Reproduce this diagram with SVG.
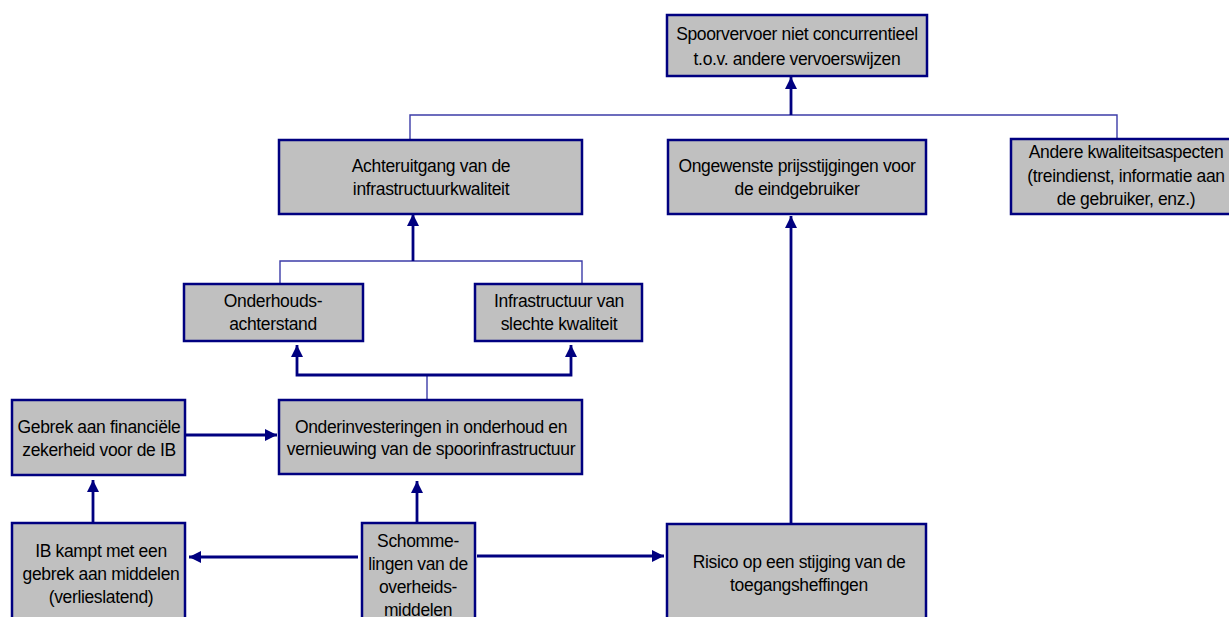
<svg xmlns="http://www.w3.org/2000/svg" width="1229" height="617" viewBox="0 0 1229 617">
<style>
.box{fill:#c0c0c0;stroke:#000080;stroke-width:2.5}
.t{font-family:"Liberation Sans",Arial,sans-serif;font-size:17.5px;letter-spacing:-0.35px;fill:#000;text-anchor:middle}
.thin{fill:none;stroke:#3c3ca8;stroke-width:1.4}
.arr{fill:none;stroke:#000080;stroke-width:2.8;marker-end:url(#ah)}
</style>
<defs>
<marker id="ah" markerUnits="userSpaceOnUse" markerWidth="13" markerHeight="12" refX="12" refY="6" orient="auto">
<path d="M0,0 L12,6 L0,12 z" fill="#000080"/>
</marker>
</defs>
<rect width="1229" height="617" fill="#fff"/>
<g id="connectors">
<path class="thin" d="M410,140 V115 H1117 V139"/>
<path class="thin" d="M280,284 V261 H582 V284"/>
<path class="thin" d="M427,375 V400"/>
<path class="arr" d="M791,115 V77"/>
<path class="arr" d="M413,261 V214"/>
<path class="arr" d="M427,375 H297 V345"/>
<path class="arr" d="M427,375 H571 V345"/>
<path class="arr" d="M185,435 H277"/>
<path class="arr" d="M93,523 V480"/>
<path class="arr" d="M417,523 V481"/>
<path class="arr" d="M358,557 H189"/>
<path class="arr" d="M477,556 H664"/>
<path class="arr" d="M791,524 V216"/>
</g>
<g id="n-spoorvervoer">
<rect class="box" x="667" y="15" width="260" height="61"/>
<text class="t" x="797" y="40">Spoorvervoer niet concurrentieel</text>
<text class="t" x="797" y="65">t.o.v. andere vervoerswijzen</text>
</g>
<g id="n-achteruitgang">
<rect class="box" x="279" y="140" width="303" height="74"/>
<text class="t" x="431" y="172">Achteruitgang van de</text>
<text class="t" x="431" y="195">infrastructuurkwaliteit</text>
</g>
<g id="n-ongewenste">
<rect class="box" x="668" y="140" width="258" height="74"/>
<text class="t" x="797" y="172">Ongewenste prijsstijgingen voor</text>
<text class="t" x="797" y="195">de eindgebruiker</text>
</g>
<g id="n-andere">
<rect class="box" x="1011" y="139" width="230" height="75"/>
<text class="t" x="1126" y="158">Andere kwaliteitsaspecten</text>
<text class="t" x="1126" y="182">(treindienst, informatie aan</text>
<text class="t" x="1126" y="205">de gebruiker, enz.)</text>
</g>
<g id="n-onderhouds">
<rect class="box" x="184" y="284" width="179" height="57"/>
<text class="t" x="273" y="307">Onderhouds-</text>
<text class="t" x="273" y="330">achterstand</text>
</g>
<g id="n-infrastructuur">
<rect class="box" x="475" y="284" width="167" height="57"/>
<text class="t" x="559" y="307">Infrastructuur van</text>
<text class="t" x="559" y="330">slechte kwaliteit</text>
</g>
<g id="n-gebrek">
<rect class="box" x="12" y="400" width="173" height="75"/>
<text class="t" x="99" y="433">Gebrek aan financiële</text>
<text class="t" x="99" y="456">zekerheid voor de IB</text>
</g>
<g id="n-onderinvesteringen">
<rect class="box" x="279" y="400" width="303" height="74"/>
<text class="t" x="431" y="433">Onderinvesteringen in onderhoud en</text>
<text class="t" x="431" y="455">vernieuwing van de spoorinfrastructuur</text>
</g>
<g id="n-ib">
<rect class="box" x="12" y="523" width="173" height="100"/>
<text class="t" x="101" y="557">IB kampt met een</text>
<text class="t" x="101" y="580">gebrek aan middelen</text>
<text class="t" x="101" y="603">(verlieslatend)</text>
</g>
<g id="n-schommelingen">
<rect class="box" x="362" y="523" width="113" height="100"/>
<text class="t" x="418" y="547">Schomme-</text>
<text class="t" x="418" y="570">lingen van de</text>
<text class="t" x="418" y="593">overheids-</text>
<text class="t" x="418" y="616">middelen</text>
</g>
<g id="n-risico">
<rect class="box" x="667" y="524" width="259" height="100"/>
<text class="t" x="799" y="568">Risico op een stijging van de</text>
<text class="t" x="799" y="591">toegangsheffingen</text>
</g>
</svg>
